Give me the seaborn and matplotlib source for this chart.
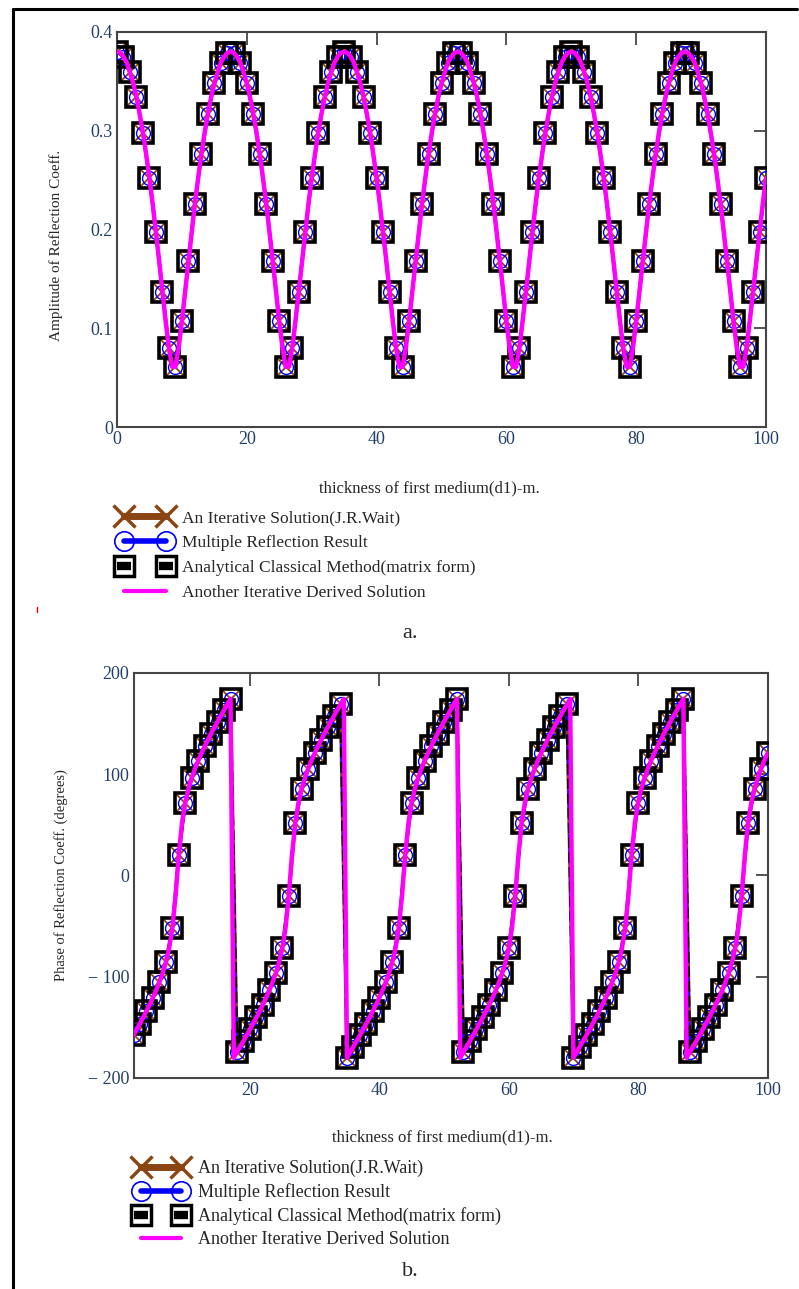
import seaborn as sns
import matplotlib.pyplot as plt
from matplotlib.lines import Line2D

# thickness of first medium d1 (m): markers every 1 m, solid curve every 0.5 m
thickness = list(range(0, 101))
phase_thickness = list(range(2, 101))
thickness_fine = [i / 2 for i in range(0, 201)]
phase_thickness_fine = [i / 2 for i in range(4, 201)]

# amplitude of reflection coefficient, d1 = 0..100
amplitude = [
    0.380, 0.375, 0.359, 0.334, 0.298, 0.252, 0.197, 0.137, 0.080, 0.061,
    0.107, 0.168, 0.226, 0.276, 0.317, 0.348, 0.369, 0.379, 0.379, 0.369,
    0.348, 0.317, 0.276, 0.226, 0.168, 0.107, 0.061, 0.080, 0.137, 0.197,
    0.252, 0.298, 0.334, 0.359, 0.375,
    0.380, 0.375, 0.359, 0.334, 0.298, 0.252, 0.197, 0.137, 0.080, 0.061,
    0.107, 0.168, 0.226, 0.276, 0.317, 0.348, 0.369, 0.379, 0.379, 0.369,
    0.348, 0.317, 0.276, 0.226, 0.168, 0.107, 0.061, 0.080, 0.137, 0.197,
    0.252, 0.298, 0.334, 0.359, 0.375,
    0.380, 0.375, 0.359, 0.334, 0.298, 0.252, 0.197, 0.137, 0.080, 0.061,
    0.107, 0.168, 0.226, 0.276, 0.317, 0.348, 0.369, 0.379, 0.379, 0.369,
    0.348, 0.317, 0.276, 0.226, 0.168, 0.107, 0.061, 0.080, 0.137, 0.197,
    0.252,
]

# same curve read every 0.5 m (magenta solid curve)
amplitude_fine = [
    0.380, 0.379, 0.375, 0.369, 0.359, 0.348, 0.334, 0.317, 0.298, 0.276,
    0.252, 0.226, 0.197, 0.168, 0.137, 0.107, 0.080, 0.061, 0.061, 0.080,
    0.107, 0.137, 0.168, 0.197, 0.226, 0.252, 0.276, 0.298, 0.317, 0.334,
    0.348, 0.359, 0.369, 0.375, 0.379,
    0.380, 0.379, 0.375, 0.369, 0.359, 0.348, 0.334, 0.317, 0.298, 0.276,
    0.252, 0.226, 0.197, 0.168, 0.137, 0.107, 0.080, 0.061, 0.061, 0.080,
    0.107, 0.137, 0.168, 0.197, 0.226, 0.252, 0.276, 0.298, 0.317, 0.334,
    0.348, 0.359, 0.369, 0.375, 0.379,
    0.380, 0.379, 0.375, 0.369, 0.359, 0.348, 0.334, 0.317, 0.298, 0.276,
    0.252, 0.226, 0.197, 0.168, 0.137, 0.107, 0.080, 0.061, 0.061, 0.080,
    0.107, 0.137, 0.168, 0.197, 0.226, 0.252, 0.276, 0.298, 0.317, 0.334,
    0.348, 0.359, 0.369, 0.375, 0.379,
    0.380, 0.379, 0.375, 0.369, 0.359, 0.348, 0.334, 0.317, 0.298, 0.276,
    0.252, 0.226, 0.197, 0.168, 0.137, 0.107, 0.080, 0.061, 0.061, 0.080,
    0.107, 0.137, 0.168, 0.197, 0.226, 0.252, 0.276, 0.298, 0.317, 0.334,
    0.348, 0.359, 0.369, 0.375, 0.379,
    0.380, 0.379, 0.375, 0.369, 0.359, 0.348, 0.334, 0.317, 0.298, 0.276,
    0.252, 0.226, 0.197, 0.168, 0.137, 0.107, 0.080, 0.061, 0.061, 0.080,
    0.107, 0.137, 0.168, 0.197, 0.226, 0.252, 0.276, 0.298, 0.317, 0.334,
    0.348, 0.359, 0.369, 0.375, 0.379,
    0.380, 0.379, 0.375, 0.369, 0.359, 0.348, 0.334, 0.317, 0.298, 0.276,
    0.252, 0.226, 0.197, 0.168, 0.137, 0.107, 0.080, 0.061, 0.061, 0.080,
    0.107, 0.137, 0.168, 0.197, 0.226, 0.252,
]

# phase of reflection coefficient in degrees, d1 = 2..100
phase = [
    -157.8, -146.2, -133.9, -120.6, -105.4, -85.8, -52.0, 20.4, 72.0, 96.4,
    113.4, 127.5, 140.2, 152.0, 163.4, 174.5, -174.5, -163.4, -152.0, -140.2,
    -127.5, -113.4, -96.4, -72.0, -20.4, 52.0, 85.8, 105.4, 120.6, 133.9,
    146.2, 157.8, 169.0,
    -180.0, -169.0, -157.8, -146.2, -133.9, -120.6, -105.4, -85.8, -52.0, 20.4,
    72.0, 96.4, 113.4, 127.5, 140.2, 152.0, 163.4, 174.5, -174.5, -163.4,
    -152.0, -140.2, -127.5, -113.4, -96.4, -72.0, -20.4, 52.0, 85.8, 105.4,
    120.6, 133.9, 146.2, 157.8, 169.0,
    -180.0, -169.0, -157.8, -146.2, -133.9, -120.6, -105.4, -85.8, -52.0, 20.4,
    72.0, 96.4, 113.4, 127.5, 140.2, 152.0, 163.4, 174.5, -174.5, -163.4,
    -152.0, -140.2, -127.5, -113.4, -96.4, -72.0, -20.4, 52.0, 85.8, 105.4,
    120.6,
]

# same phase curve read every 0.5 m, d1 = 2..100
phase_fine = [
    -157.8, -152.0, -146.2, -140.2, -133.9, -127.5, -120.6, -113.4, -105.4,
    -96.4, -85.8, -72.0, -52.0, -20.4, 20.4, 52.0, 72.0, 85.8, 96.4, 105.4,
    113.4, 120.6, 127.5, 133.9, 140.2, 146.2, 152.0, 157.8, 163.4, 169.0,
    174.5,
    -180.0, -174.5, -169.0, -163.4, -157.8, -152.0, -146.2, -140.2, -133.9,
    -127.5, -120.6, -113.4, -105.4, -96.4, -85.8, -72.0, -52.0, -20.4, 20.4,
    52.0, 72.0, 85.8, 96.4, 105.4, 113.4, 120.6, 127.5, 133.9, 140.2, 146.2,
    152.0, 157.8, 163.4, 169.0, 174.5,
    -180.0, -174.5, -169.0, -163.4, -157.8, -152.0, -146.2, -140.2, -133.9,
    -127.5, -120.6, -113.4, -105.4, -96.4, -85.8, -72.0, -52.0, -20.4, 20.4,
    52.0, 72.0, 85.8, 96.4, 105.4, 113.4, 120.6, 127.5, 133.9, 140.2, 146.2,
    152.0, 157.8, 163.4, 169.0, 174.5,
    -180.0, -174.5, -169.0, -163.4, -157.8, -152.0, -146.2, -140.2, -133.9,
    -127.5, -120.6, -113.4, -105.4, -96.4, -85.8, -72.0, -52.0, -20.4, 20.4,
    52.0, 72.0, 85.8, 96.4, 105.4, 113.4, 120.6, 127.5, 133.9, 140.2, 146.2,
    152.0, 157.8, 163.4, 169.0, 174.5,
    -180.0, -174.5, -169.0, -163.4, -157.8, -152.0, -146.2, -140.2, -133.9,
    -127.5, -120.6, -113.4, -105.4, -96.4, -85.8, -72.0, -52.0, -20.4, 20.4,
    52.0, 72.0, 85.8, 96.4, 105.4, 113.4, 120.6, 127.5, 133.9, 140.2, 146.2,
    152.0, 157.8, 163.4, 169.0, 174.5,
    -180.0, -174.5, -169.0, -163.4, -157.8, -152.0, -146.2, -140.2, -133.9,
    -127.5, -120.6, -113.4, -105.4, -96.4, -85.8, -72.0, -52.0, -20.4, 20.4,
    52.0, 72.0, 85.8, 96.4, 105.4, 113.4, 120.6,
]

series_labels = [
    "An Iterative Solution(J.R.Wait)",
    "Multiple Reflection Result",
    "Analytical Classical Method(matrix form)",
    "Another Iterative Derived Solution",
]

BROWN = "#8B4513"
MAGENTA = "#FF00FF"
TICKC = "#23406a"
AXC = "#454545"

sns.set_theme(style="white")
plt.rcParams["font.family"] = ["Liberation Serif", "DejaVu Serif"]

fig = plt.figure(figsize=(7.99, 12.89), dpi=100)
W, H = 799, 1289
ax1 = fig.add_axes([117 / W, 1 - 427 / H, 649 / W, 395 / H])
ax2 = fig.add_axes([133.5 / W, 1 - 1078 / H, 634 / W, 405 / H])


def draw(ax, x, y, xf, yf):
    sns.lineplot(x=x, y=y, ax=ax, color=BROWN, lw=2.5, marker="x", ms=14,
                 mew=1.3, mec=BROWN, zorder=2)
    sns.lineplot(x=x, y=y, ax=ax, color="blue", lw=1.5, ls="--", marker="o",
                 ms=10, mfc="none", mec="blue", mew=1.0, zorder=3)
    sns.lineplot(x=x, y=y, ax=ax, color="black", lw=2, ls="--", marker="s",
                 ms=14, mfc="none", mec="black", mew=2.6, zorder=4)
    sns.lineplot(x=xf, y=yf, ax=ax, color=MAGENTA, lw=3.2, zorder=5)


def style(ax):
    for sp in ax.spines.values():
        sp.set_color(AXC)
        sp.set_linewidth(1.5)
    ax.tick_params(direction="in", length=9, width=1.3, color=AXC,
                   top=True, right=True, labelsize=13, labelcolor=TICKC,
                   pad=3)


draw(ax1, thickness, amplitude, thickness_fine, amplitude_fine)
ax1.set_xlim(0, 100)
ax1.set_ylim(0, 0.4)
ax1.set_xticks([0, 20, 40, 60, 80, 100])
ax1.set_yticks([0, 0.1, 0.2, 0.3, 0.4])
ax1.set_yticklabels(["0", "0.1", "0.2", "0.3", "0.4"])
style(ax1)
ax1.set_xlabel("thickness of first medium(d1)-m.", fontsize=12)
ax1.set_ylabel("Amplitude of Reflection Coeff.", fontsize=11)
ax1.xaxis.set_label_coords(0.481, -0.134)
ax1.yaxis.set_label_coords(-0.083, 0.46)

draw(ax2, phase_thickness, phase, phase_thickness_fine, phase_fine)
ax2.set_xlim(2, 100)
ax2.set_ylim(-200, 200)
ax2.set_xticks([20, 40, 60, 80, 100])
ax2.set_yticks([-200, -100, 0, 100, 200])
ax2.set_yticklabels(["\u2212 200", "\u2212 100", "0", "100", "200"])
style(ax2)
ax2.set_xlabel("thickness of first medium(d1)-m.", fontsize=12)
ax2.set_ylabel("Phase of Reflection Coeff. (degrees)", fontsize=10.5)
ax2.xaxis.set_label_coords(0.487, -0.128)
ax2.yaxis.set_label_coords(-0.103, 0.5)


def handles():
    h1 = Line2D([], [], color=BROWN, lw=5, marker="x", ms=16, mew=2.5)
    h2 = Line2D([], [], color="blue", lw=4, marker="o", ms=14, mfc="none",
                mec="blue", mew=1.2)
    h3 = (Line2D([], [], ls="none", marker="s", ms=15, mfc="none",
                 mec="black", mew=2.5),
          Line2D([], [], ls="none", marker="_", ms=10, mew=6, color="black"))
    h4 = Line2D([], [], color=MAGENTA, lw=3)
    return [h1, h2, h3, h4]


for lx, ly, fs, hl, ls in [(119, 510, 12.5, 3.0, 0.5), (136, 1160, 13, 2.8, 0.33)]:
    fig.legend(handles(), series_labels, loc="upper left",
               bbox_to_anchor=(lx / W, 1 - ly / H), frameon=False,
               numpoints=2, handlelength=hl, handletextpad=0.62,
               labelspacing=ls, borderpad=0, borderaxespad=0,
               prop={"family": "Liberation Serif", "size": fs})

fig.text(410 / W, 1 - 633 / H, "a.", fontsize=16, ha="center", va="center")
fig.text(410 / W, 1 - 1272 / H, "b.", fontsize=16, ha="center", va="center")

# page frame
fig.add_artist(Line2D([13 / W, 13 / W], [0, 1 - 9 / H], color="black",
                      lw=2.2, transform=fig.transFigure))
fig.add_artist(Line2D([13 / W, 797 / W], [1 - 9 / H, 1 - 9 / H],
                      color="black", lw=2.2, transform=fig.transFigure))
fig.add_artist(Line2D([37 / W, 37 / W], [1 - 607 / H, 1 - 612 / H],
                      color="red", lw=1, transform=fig.transFigure))

fig.savefig("out.png", dpi=100)
